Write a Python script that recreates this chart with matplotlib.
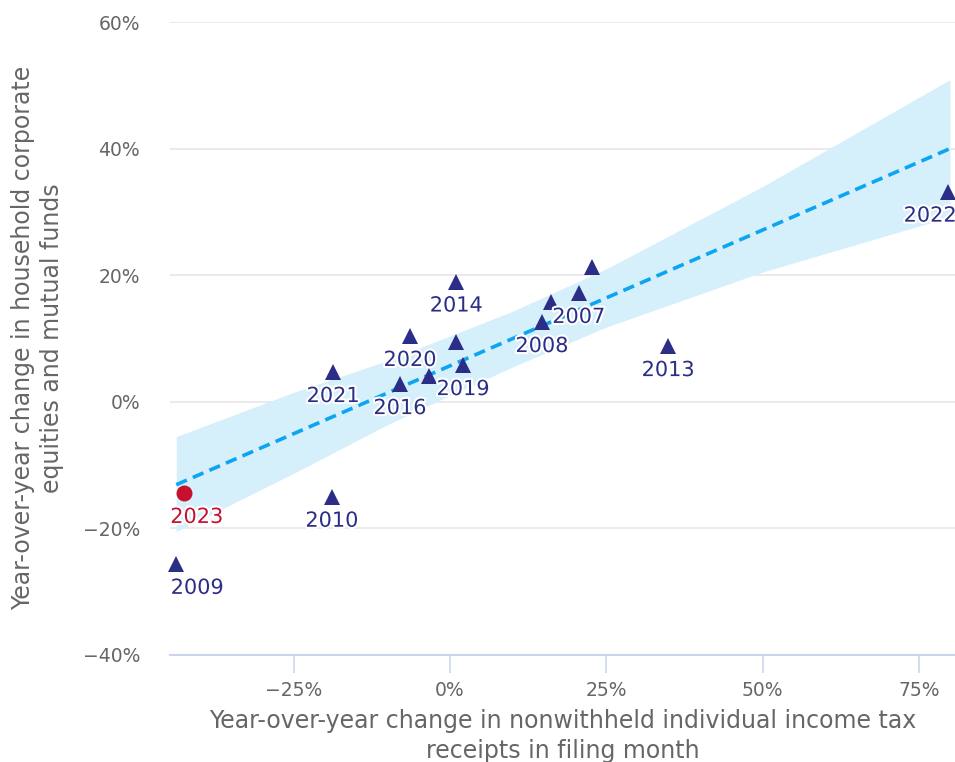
import matplotlib.pyplot as plt
import matplotlib.patheffects as pe
from matplotlib.ticker import FuncFormatter

years = ["2009", "2010", "2021", "2016", "2020", "", "2014", "", "2019",
         "2008", "", "2007", "", "2013", "2022"]
tax_change = [-43.8, -18.9, -18.7, -8.0, -6.4, -3.4, 1.0, 1.0, 2.1,
              14.7, 16.2, 20.6, 22.7, 34.9, 79.7]
equity_change = [-25.6, -15.0, 4.7, 2.8, 10.4, 4.1, 19.0, 9.5, 5.8,
                 12.6, 15.8, 17.2, 21.3, 8.8, 33.2]

year_2023 = "2023"
tax_2023 = -42.6
equity_2023 = -14.4

fit_x = [-43.8, 80.0]
fit_y = [-13.1, 40.0]

band_x = [-43.8, -25, -10, 0, 10, 25, 50, 80]
band_hi = [-5.5, 1.5, 6.5, 10.4, 14.3, 21.0, 34.0, 50.9]
band_lo = [-20.5, -11.3, -3.6, 1.0, 5.5, 11.8, 20.5, 29.2]

navy = "#2b2d86"
red = "#c8102e"
gray = "#666666"

fig = plt.figure(figsize=(9.55, 7.62), dpi=100)
ax = fig.add_axes([170 / 955, 107 / 762, 785 / 955, 633 / 762])

ax.fill_between(band_x, band_lo, band_hi, color="#d5effb", lw=0, zorder=1)
ax.plot(fit_x, fit_y, color="#0ba5f2", lw=2.6, ls=(0, (3.2, 1.8)), zorder=2)

ax.plot(tax_change, equity_change, "^", color=navy, ms=11.5, mew=0, zorder=3,
        clip_on=False)
ax.plot([tax_2023], [equity_2023], "o", color=red, ms=11.5, mew=0, zorder=3)

outline = [pe.withStroke(linewidth=3, foreground="white")]
shift = {"2009": 21, "2022": -18}
for yr, x, y in zip(years, tax_change, equity_change):
    if not yr:
        continue
    ax.annotate(yr, (x, y), xytext=(shift.get(yr, 0), -24),
                textcoords="offset pixels", ha="center", va="center",
                fontsize=15, color=navy, path_effects=outline, zorder=4)
ax.annotate(year_2023, (tax_2023, equity_2023), xytext=(13, -24),
            textcoords="offset pixels", ha="center", va="center",
            fontsize=15, color=red, path_effects=outline, zorder=4)

ax.set_xlim(-44.8, 80.8)
ax.set_ylim(-40, 60)
ax.set_xticks([-25, 0, 25, 50, 75])
ax.set_yticks([-40, -20, 0, 20, 40, 60])
ax.xaxis.set_major_formatter(FuncFormatter(lambda v, p: f"{v:.0f}%".replace("-", "\u2212")))
ax.yaxis.set_major_formatter(FuncFormatter(lambda v, p: f"{v:.0f}%".replace("-", "\u2212")))

ax.grid(axis="y", color="#e6e6e6", lw=1.2, zorder=0)
ax.set_axisbelow(True)
for s in ["top", "right", "left"]:
    ax.spines[s].set_visible(False)
ax.spines["bottom"].set_color("#ccd6eb")
ax.spines["bottom"].set_linewidth(1.5)

ax.tick_params(axis="x", colors="#ccd6eb", length=13, width=1.2, labelcolor=gray,
               labelsize=13.5, pad=6)
ax.tick_params(axis="y", length=0, labelcolor=gray, labelsize=13.5, pad=21.5)

fig.text(563 / 955, 1 - 736 / 762,
         "Year-over-year change in nonwithheld individual income tax\nreceipts in filing month",
         fontsize=17, color=gray, ha="center", va="center", linespacing=1.3)
fig.text(37.5 / 955, 1 - 338 / 762,
         "Year-over-year change in household corporate\nequities and mutual funds",
         fontsize=17, color=gray, ha="center", va="center", rotation=90,
         linespacing=1.3)

fig.savefig("out.png", dpi=100)
